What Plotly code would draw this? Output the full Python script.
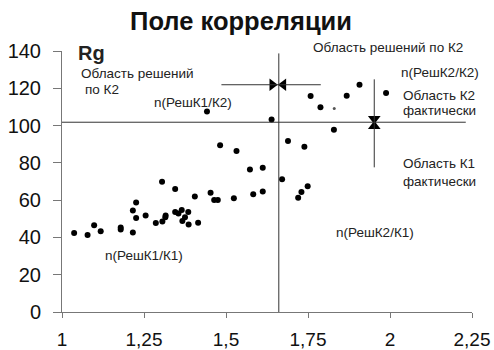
import plotly.graph_objects as go

# ---- data ----
kt = [1.037, 1.078, 1.098, 1.118, 1.179, 1.179, 1.216, 1.216, 1.226, 1.226,
      1.255, 1.286, 1.305, 1.306, 1.315, 1.316, 1.345, 1.345, 1.355, 1.365,
      1.367, 1.375, 1.385, 1.386, 1.405, 1.415, 1.453, 1.464, 1.475, 1.524,
      1.442, 1.639, 1.482, 1.532, 1.573, 1.612, 1.583, 1.612, 1.671, 1.689,
      1.739, 1.720, 1.730, 1.749, 1.758, 1.788, 1.868, 1.907, 1.988, 1.829]
rg = [42.4, 41.3, 46.5, 43.3, 45.3, 44.2, 42.7, 54.5, 58.7, 50.4,
      51.7, 47.7, 69.9, 48.6, 50.8, 51.8, 66.0, 53.6, 52.8, 54.7,
      48.8, 50.8, 53.6, 46.9, 61.9, 47.9, 64.0, 60.1, 60.1, 61.0,
      107.5, 103.3, 89.4, 86.3, 76.4, 77.4, 63.1, 64.6, 71.2, 91.7,
      88.7, 61.3, 64.4, 67.5, 115.9, 109.8, 116.0, 121.9, 117.5, 97.8]
faint_kt = [1.830]
faint_rg = [109.1]

kt_threshold = 1.661      # vertical boundary (K2 decisions)
rg_threshold = 101.8      # horizontal boundary (K2 actual)
arrow_rg = 121.9          # level of horizontal arrow
arrow_kt = 1.952          # position of vertical arrow

x_tickvals = [1, 1.25, 1.5, 1.75, 2, 2.25]
x_ticktext = ["1", "1,25", "1,5", "1,75", "2", "2,25"]
y_tickvals = [0, 20, 40, 60, 80, 100, 120, 140]

FONT = "Liberation Sans, Arial, sans-serif"
LINE = "#333333"
ML, MR, MT, MB = 62, 22, 51, 38
PH = 350 - MT - MB

fig = go.Figure()
fig.add_trace(go.Scatter(x=kt, y=rg, mode="markers",
                         marker=dict(color="black", size=6), showlegend=False))
fig.add_trace(go.Scatter(x=faint_kt, y=faint_rg, mode="markers",
                         marker=dict(color="#555", size=3), showlegend=False))

# arrowheads
fig.add_trace(go.Scatter(
    x=[kt_threshold - 0.02, kt_threshold + 0.014, arrow_kt, arrow_kt],
    y=[arrow_rg, arrow_rg, rg_threshold + 1.8, rg_threshold - 2.2],
    mode="markers",
    marker=dict(color="black", size=11,
                symbol=["triangle-right", "triangle-left", "triangle-down", "triangle-up"]),
    showlegend=False, cliponaxis=False))

shapes = [
    dict(type="line", xref="x", yref="y", x0=1, x1=2.231, y0=rg_threshold, y1=rg_threshold,
         line=dict(color=LINE, width=1)),
    dict(type="line", xref="x", yref="y", x0=kt_threshold, x1=kt_threshold, y0=0, y1=138.7,
         line=dict(color=LINE, width=1)),
    dict(type="line", xref="x", yref="y", x0=1.486, x1=1.789, y0=arrow_rg, y1=arrow_rg,
         line=dict(color=LINE, width=1)),
    dict(type="line", xref="x", yref="y", x0=arrow_kt, x1=arrow_kt, y0=77.6, y1=124.8,
         line=dict(color=LINE, width=1)),
]

def note(x, y, text, size=13.5, bold=False, xanchor="left", yref="y"):
    return dict(x=x, y=y, xref="x", yref=yref, text=f"<b>{text}</b>" if bold else text,
                showarrow=False, xanchor=xanchor, yanchor="middle",
                font=dict(family=FONT, size=size, color="#222"))

annotations = [
    note(1.053, 128.0, "Область решений"),
    note(1.065, 119.4, "по К2"),
    note(1.274, 112.4, "n(РешК1/К2)"),
    note(1.758, (350 - MB - 48) / PH, "Область решений по К2", yref="paper"),
    note(2.028, 128.5, "n(РешК2/К2)"),
    note(2.034, 116.2, "Область К2"),
    note(2.034, 107.9, "фактически"),
    note(2.034, 79.7, "Область К1"),
    note(2.034, 70.1, "фактически"),
    note(1.828, 42.7, "n(РешК2/К1)"),
    note(1.125, 30.4, "n(РешК1/К1)"),
    note(1.044, 138.7, "Rg", size=20, bold=True),
    note(2.253, 15.4, "Кт", size=17, bold=True, xanchor="right"),
]

fig.update_layout(
    width=494, height=350,
    margin=dict(l=ML, r=MR, t=MT, b=MB),
    paper_bgcolor="white", plot_bgcolor="white",
    font=dict(family=FONT, color="#111"),
    title=dict(text="<b>Поле корреляции</b>", x=241 / 494, xanchor="center",
               y=1 - 21 / 350, yanchor="middle", font=dict(family=FONT, size=25.5, color="#111")),
    shapes=shapes, annotations=annotations,
    xaxis=dict(range=[1, 2.25], tickvals=x_tickvals, ticktext=x_ticktext, automargin=False,
               showgrid=False, zeroline=False, showline=True, linecolor="#777", linewidth=1,
               ticks="outside", ticklen=5, tickcolor="#777", ticklabelstandoff=5,
               tickfont=dict(family=FONT, size=19, color="#111")),
    yaxis=dict(range=[0, 140], tickvals=y_tickvals, automargin=False,
               showgrid=False, zeroline=False, showline=True, linecolor="#777", linewidth=1,
               ticks="outside", ticklen=8, tickcolor="#777", ticklabelstandoff=8,
               tickfont=dict(family=FONT, size=20, color="#111")),
)

fig.write_html("out.html", config={"displayModeBar": False},
               post_script="document.body.style.margin='0';document.body.style.overflow='hidden';")
